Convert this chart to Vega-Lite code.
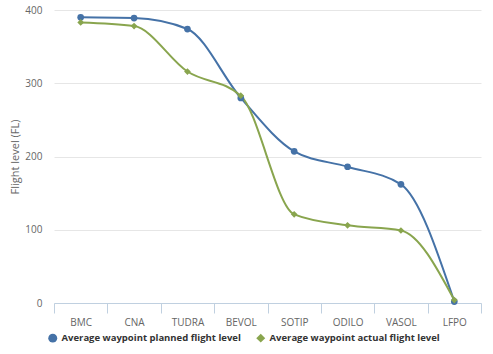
{
  "$schema": "https://vega.github.io/schema/vega-lite/v6.json",
  "width": 427,
  "height": 293,
  "autosize": {"type": "none"},
  "padding": {"left": 54, "top": 10, "right": 12, "bottom": 51},
  "background": "white",
  "config": {
    "view": {"stroke": null},
    "font": "Open Sans"
  },
  "data": {
    "values": [
      {"wp": "BMC", "series": "Average waypoint planned flight level", "fl": 390},
      {"wp": "CNA", "series": "Average waypoint planned flight level", "fl": 389},
      {"wp": "TUDRA", "series": "Average waypoint planned flight level", "fl": 374},
      {"wp": "BEVOL", "series": "Average waypoint planned flight level", "fl": 280},
      {"wp": "SOTIP", "series": "Average waypoint planned flight level", "fl": 207},
      {"wp": "ODILO", "series": "Average waypoint planned flight level", "fl": 186},
      {"wp": "VASOL", "series": "Average waypoint planned flight level", "fl": 162},
      {"wp": "LFPO", "series": "Average waypoint planned flight level", "fl": 2},
      {"wp": "BMC", "series": "Average waypoint actual flight level", "fl": 383},
      {"wp": "CNA", "series": "Average waypoint actual flight level", "fl": 378},
      {"wp": "TUDRA", "series": "Average waypoint actual flight level", "fl": 316},
      {"wp": "BEVOL", "series": "Average waypoint actual flight level", "fl": 283},
      {"wp": "SOTIP", "series": "Average waypoint actual flight level", "fl": 121},
      {"wp": "ODILO", "series": "Average waypoint actual flight level", "fl": 106},
      {"wp": "VASOL", "series": "Average waypoint actual flight level", "fl": 99},
      {"wp": "LFPO", "series": "Average waypoint actual flight level", "fl": 4}
    ]
  },
  "encoding": {
    "x": {
      "field": "wp",
      "type": "nominal",
      "sort": null,
      "scale": {"type": "band", "paddingInner": 0, "paddingOuter": 0},
      "axis": {
        "title": null,
        "labelAngle": 0,
        "labelColor": "#666666",
        "labelFontSize": 10,
        "labelPadding": 4,
        "tickBand": "extent",
        "tickColor": "#C0D0E0",
        "tickSize": 10,
        "domainColor": "#C0D0E0",
        "grid": false
      }
    },
    "y": {
      "field": "fl",
      "type": "quantitative",
      "scale": {"domain": [0, 400], "nice": false},
      "axis": {
        "title": "Flight level (FL)",
        "titleColor": "#666666",
        "titleFontSize": 11,
        "titleFontWeight": "normal",
        "titlePadding": 4,
        "values": [0, 100, 200, 300, 400],
        "labelColor": "#666666",
        "labelFontSize": 10,
        "labelPadding": 12,
        "ticks": false,
        "domain": false,
        "gridColor": "#E6E6E6",
        "gridWidth": 1
      }
    }
  },
  "layer": [
    {
      "mark": {"type": "line", "interpolate": "monotone", "strokeWidth": 2},
      "encoding": {
        "color": {
          "field": "series",
          "type": "nominal",
          "sort": null,
          "scale": {
            "domain": ["Average waypoint planned flight level", "Average waypoint actual flight level"],
            "range": ["#4572A7", "#89A54E"]
          },
          "legend": {
            "title": null,
            "orient": "none",
            "legendX": -6,
            "legendY": 323,
            "direction": "horizontal",
            "labelFontSize": 9.5,
            "labelFontWeight": "bold",
            "labelColor": "#333333",
            "labelLimit": 400,
            "labelOffset": 4,
            "columnPadding": 15,
            "symbolSize": 80,
            "symbolStrokeWidth": 0,
            "symbolType": "M-1,-0.14L-0.53,-0.14A0.55,0.55 0 0,1 0.53,-0.14L1,-0.14L1,0.14L0.53,0.14A0.55,0.55 0 0,1 -0.53,0.14L-1,0.14Z",
            "encode": {
              "symbols": {
                "update": {
                  "shape": {"signal": "datum.value === 'Average waypoint planned flight level' ? 'M-1,-0.14L-0.53,-0.14A0.55,0.55 0 0,1 0.53,-0.14L1,-0.14L1,0.14L0.53,0.14A0.55,0.55 0 0,1 -0.53,0.14L-1,0.14Z' : 'M-1,-0.14L-0.46,-0.14L0,-0.6L0.46,-0.14L1,-0.14L1,0.14L0.46,0.14L0,0.6L-0.46,0.14L-1,0.14Z'"},
                  "fill": {"signal": "datum.value === 'Average waypoint planned flight level' ? '#4572A7' : '#89A54E'"},
                  "size": {"value": 80},
                  "strokeWidth": {"value": 0},
                  "fillOpacity": {"value": 1},
                  "opacity": {"value": 1}
                }
              }
            }
          }
        }
      }
    },
    {
      "mark": {"type": "point", "filled": true, "size": 45, "opacity": 1},
      "encoding": {
        "color": {
          "field": "series",
          "type": "nominal",
          "sort": null,
          "legend": null
        },
        "shape": {
          "field": "series",
          "type": "nominal",
          "sort": null,
          "scale": {
            "domain": ["Average waypoint planned flight level", "Average waypoint actual flight level"],
            "range": ["circle", "diamond"]
          },
          "legend": null
        }
      }
    }
  ]
}
